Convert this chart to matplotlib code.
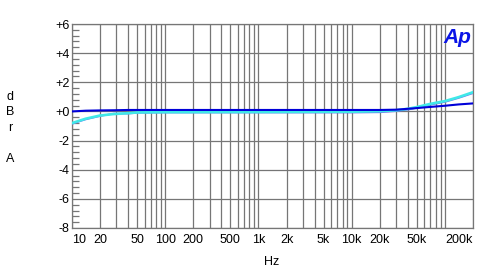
import matplotlib.pyplot as plt
import numpy as np

# sweep frequencies (Hz) and levels (dB)
freq = [10, 14, 20, 28, 40, 50, 100, 1000, 10000, 20000, 30000, 40000, 50000, 70000, 100000, 140000, 200000]
blue = [0.0, 0.05, 0.07, 0.08, 0.1, 0.1, 0.1, 0.1, 0.1, 0.1, 0.12, 0.18, 0.23, 0.31, 0.39, 0.48, 0.55]
cyan = [-0.8, -0.5, -0.28, -0.18, -0.12, -0.07, -0.05, -0.04, -0.02, 0.02, 0.08, 0.18, 0.3, 0.52, 0.71, 0.98, 1.32]
purple = [-0.85, -0.55, -0.32, -0.15, -0.15, -0.1, -0.08, -0.08, -0.08, -0.06, 0.02, 0.12, 0.24, 0.46, 0.65, 0.92, 1.25]

xticks = [10, 20, 50, 100, 200, 500, 1000, 2000, 5000, 10000, 20000, 50000, 200000]
xlabels = ['10', '20', '50', '100', '200', '500', '1k', '2k', '5k', '10k', '20k', '50k', '200k']
yticks = [-8, -6, -4, -2, 0, 2, 4, 6]
ylabels = ['-8', '-6', '-4', '-2', '+0', '+2', '+4', '+6']

plt.rcParams['font.family'] = ['Liberation Sans', 'DejaVu Sans']
grid_col = '#767676'
fs = 9

fig = plt.figure(figsize=(4.9, 2.8), dpi=100)
ax = fig.add_axes([72 / 490, 52 / 280, 401 / 490, 204 / 280])

ax.plot(freq, purple, color='#7070f0', lw=1.2, zorder=3)
ax.plot(freq, cyan, color='#40e8e8', lw=1.9, zorder=4)
ax.plot(freq, blue, color='#0000d8', lw=1.5, zorder=5)

ax.set_xscale('log')
ax.set_xlim(10, 200000)
ax.set_ylim(-8, 6)

# vertical grid at every 1..9 multiple
gx = [m * 10 ** d for d in range(1, 6) for m in range(1, 10) if m * 10 ** d <= 200000]
for g in gx:
    ax.axvline(g, color=grid_col, lw=0.9, zorder=1)
for y in yticks:
    ax.axhline(y, color=grid_col, lw=0.9, zorder=1)

ax.set_xticks(xticks)
ax.set_xticklabels(xlabels, fontsize=fs)
ax.xaxis.set_minor_locator(plt.NullLocator())
ax.tick_params(axis='x', length=0, pad=4)
labs = ax.get_xticklabels()
labs[0].set_horizontalalignment('left')
labs[-1].set_horizontalalignment('right')

ax.set_yticks(yticks)
ax.set_yticklabels(ylabels, fontsize=fs)
ax.set_yticks(np.arange(-8, 6.01, 0.4), minor=True)
ax.tick_params(axis='y', which='major', length=0, pad=2)
ax.tick_params(axis='y', which='minor', direction='in', length=5, color=grid_col, width=0.9)

for s in ax.spines.values():
    s.set_color(grid_col)
    s.set_linewidth(0.9)

fig.text(272 / 490, 1 - 262 / 280, 'Hz', ha='center', va='center', fontsize=fs)
fig.text(10 / 490, 1 - 128 / 280, 'd\nB\nr\n\nA', ha='center', va='center', fontsize=fs, linespacing=1.4)
ax.text(0.962, 0.932, 'Ap', transform=ax.transAxes, ha='center', va='center',
        fontsize=15, fontweight='bold', fontstyle='italic', color='#0a14e6', zorder=6)

fig.savefig('out.png', dpi=100)
